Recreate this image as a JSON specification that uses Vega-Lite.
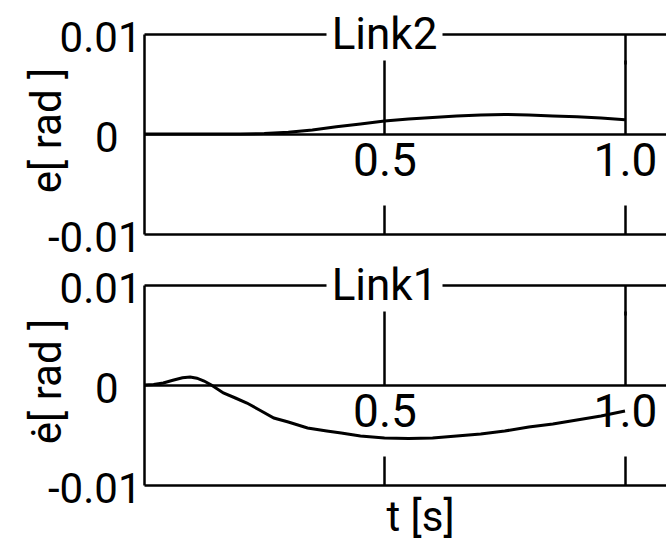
{
  "$schema": "https://vega.github.io/schema/vega-lite/v6.json",
  "padding": {"left": 26, "top": 13, "right": 0, "bottom": 10},
  "background": "white",
  "config": {
    "font": "Roboto",
    "view": {"stroke": null},
    "axis": {
      "domainColor": "black", "tickColor": "black", "labelColor": "black", "titleColor": "black",
      "domainWidth": 2.5, "tickWidth": 2.5, "grid": false,
      "labelFont": "Roboto", "titleFont": "Roboto",
      "titleFontWeight": "normal"
    },
    "line": {"color": "black", "strokeWidth": 3}
  },
  "datasets": {
    "link2": [
      {"t": 0, "e": 0}, {"t": 0.1, "e": 0}, {"t": 0.2, "e": 0}, {"t": 0.25, "e": 0.00005},
      {"t": 0.3, "e": 0.00018}, {"t": 0.35, "e": 0.0004}, {"t": 0.4, "e": 0.00072},
      {"t": 0.45, "e": 0.001}, {"t": 0.5, "e": 0.0013}, {"t": 0.55, "e": 0.0015},
      {"t": 0.6, "e": 0.00166}, {"t": 0.65, "e": 0.0018}, {"t": 0.7, "e": 0.0019},
      {"t": 0.75, "e": 0.00195}, {"t": 0.8, "e": 0.0019}, {"t": 0.85, "e": 0.0018},
      {"t": 0.9, "e": 0.00172}, {"t": 0.95, "e": 0.0016}, {"t": 1.0, "e": 0.00143}
    ],
    "link1": [
      {"t": 0, "e": 0}, {"t": 0.02, "e": 0.00005}, {"t": 0.04, "e": 0.0002}, {"t": 0.06, "e": 0.00047},
      {"t": 0.08, "e": 0.00072}, {"t": 0.096, "e": 0.0008}, {"t": 0.11, "e": 0.00068},
      {"t": 0.125, "e": 0.0004}, {"t": 0.14, "e": 0}, {"t": 0.165, "e": -0.0008},
      {"t": 0.19, "e": -0.0013}, {"t": 0.214, "e": -0.0018}, {"t": 0.24, "e": -0.0025},
      {"t": 0.27, "e": -0.0033}, {"t": 0.3, "e": -0.0037}, {"t": 0.34, "e": -0.0043},
      {"t": 0.38, "e": -0.0046}, {"t": 0.41, "e": -0.0048}, {"t": 0.45, "e": -0.0051},
      {"t": 0.5, "e": -0.0053}, {"t": 0.55, "e": -0.00535}, {"t": 0.6, "e": -0.0053},
      {"t": 0.65, "e": -0.0051}, {"t": 0.7, "e": -0.0049}, {"t": 0.75, "e": -0.0046},
      {"t": 0.8, "e": -0.0042}, {"t": 0.85, "e": -0.0039}, {"t": 0.9, "e": -0.0035},
      {"t": 0.95, "e": -0.0031}, {"t": 1.0, "e": -0.0026}
    ]
  },
  "spacing": 51,
  "bounds": "flush",
  "vconcat": [
    {
      "width": 524, "height": 200,
      "data": {"name": "link2"},
      "layer": [
        {
          "mark": {"type": "line"},
          "encoding": {
            "x": {"field": "t", "type": "quantitative", "scale": {"domain": [0, 1.0894], "nice": false, "zero": false},
              "axis": {"orient": "bottom", "offset": -100, "values": [0.5, 1.0], "format": ".1f", "ticks": false, "domain": true, "labelFontSize": 46, "labelPadding": 5, "labelFlush": false, "title": null}},
            "y": {"field": "e", "type": "quantitative", "scale": {"domain": [-0.01, 0.01], "nice": false, "zero": false},
              "axis": {"orient": "left", "values": [-0.01, 0.01], "ticks": false, "domain": true, "labelPadding": 3, "labelFontSize": 42, "labelOffset": 4, "labelExpr": "replace(format(datum.value, '.2~f'), '\u2212', '-')", "title": "e[ rad ]", "titleX": -84, "titleY": 96, "titleAngle": 270, "titleAlign": "center", "titleBaseline": "alphabetic", "titleFontSize": 42}}
          }
        },
        {
          "mark": {"type": "line", "opacity": 0},
          "encoding": {
            "x": {"field": "t", "type": "quantitative", "scale": {"domain": [0, 1.0894], "nice": false, "zero": false},
              "axis": {"orient": "bottom", "offset": -100, "values": [0.5, 1.0], "ticks": true, "tickSize": -74, "domain": false, "labels": false, "title": null}},
            "y": {"field": "e", "type": "quantitative", "scale": {"domain": [-0.01, 0.01], "nice": false, "zero": false},
              "axis": {"orient": "left", "values": [0], "ticks": false, "domain": false, "labelPadding": 26, "labelFontSize": 42, "labelOffset": 4, "format": ".0f", "title": null}}
          }
        },
        {
          "mark": {"type": "line", "opacity": 0},
          "encoding": {
            "x": {"field": "t", "type": "quantitative", "scale": {"domain": [0, 1.0894], "nice": false, "zero": false},
              "axis": {"orient": "top", "values": [1.0], "ticks": true, "tickSize": -30, "domain": true, "domainDash": [182, 116, 1000], "labels": false, "title": "Link2", "titleX": 240, "titleY": 14, "titleAlign": "center", "titleBaseline": "alphabetic", "titleFontSize": 44, "titleAngle": 0}},
            "y": {"field": "e", "type": "quantitative", "scale": {"domain": [-0.01, 0.01], "nice": false, "zero": false}, "axis": null}
          }
        },
        {
          "mark": {"type": "line", "opacity": 0},
          "encoding": {
            "x": {"field": "t", "type": "quantitative", "scale": {"domain": [0, 1.0894], "nice": false, "zero": false},
              "axis": {"orient": "bottom", "values": [0.5, 1.0], "ticks": true, "tickSize": -29, "domain": true, "labels": false, "title": null}},
            "y": {"field": "e", "type": "quantitative", "scale": {"domain": [-0.01, 0.01], "nice": false, "zero": false}, "axis": null}
          }
        }
      ],
      "resolve": {"axis": {"x": "independent", "y": "independent"}}
    },
    {
      "width": 524, "height": 200,
      "data": {"name": "link1"},
      "layer": [
        {
          "mark": {"type": "line"},
          "encoding": {
            "x": {"field": "t", "type": "quantitative", "scale": {"domain": [0, 1.0894], "nice": false, "zero": false},
              "axis": {"orient": "bottom", "offset": -100, "values": [0.5, 1.0], "format": ".1f", "ticks": false, "domain": true, "labelFontSize": 46, "labelPadding": 5, "labelFlush": false, "title": null}},
            "y": {"field": "e", "type": "quantitative", "scale": {"domain": [-0.01, 0.01], "nice": false, "zero": false},
              "axis": {"orient": "left", "values": [-0.01, 0.01], "ticks": false, "domain": true, "labelPadding": 3, "labelFontSize": 42, "labelOffset": 4, "labelExpr": "replace(format(datum.value, '.2~f'), '\u2212', '-')", "title": "ė[ rad ]", "titleX": -84, "titleY": 96, "titleAngle": 270, "titleAlign": "center", "titleBaseline": "alphabetic", "titleFontSize": 42}}
          }
        },
        {
          "mark": {"type": "line", "opacity": 0},
          "encoding": {
            "x": {"field": "t", "type": "quantitative", "scale": {"domain": [0, 1.0894], "nice": false, "zero": false},
              "axis": {"orient": "bottom", "offset": -100, "values": [0.5, 1.0], "ticks": true, "tickSize": -74, "domain": false, "labels": false, "title": null}},
            "y": {"field": "e", "type": "quantitative", "scale": {"domain": [-0.01, 0.01], "nice": false, "zero": false},
              "axis": {"orient": "left", "values": [0], "ticks": false, "domain": false, "labelPadding": 26, "labelFontSize": 42, "labelOffset": 4, "format": ".0f", "title": null}}
          }
        },
        {
          "mark": {"type": "line", "opacity": 0},
          "encoding": {
            "x": {"field": "t", "type": "quantitative", "scale": {"domain": [0, 1.0894], "nice": false, "zero": false},
              "axis": {"orient": "top", "values": [1.0], "ticks": true, "tickSize": -30, "domain": true, "domainDash": [182, 116, 1000], "labels": false, "title": "Link1", "titleX": 240, "titleY": 14, "titleAlign": "center", "titleBaseline": "alphabetic", "titleFontSize": 44, "titleAngle": 0}},
            "y": {"field": "e", "type": "quantitative", "scale": {"domain": [-0.01, 0.01], "nice": false, "zero": false}, "axis": null}
          }
        },
        {
          "mark": {"type": "line", "opacity": 0},
          "encoding": {
            "x": {"field": "t", "type": "quantitative", "scale": {"domain": [0, 1.0894], "nice": false, "zero": false},
              "axis": {"orient": "bottom", "values": [0.5, 1.0], "ticks": true, "tickSize": -29, "domain": true, "labels": false, "title": "t [s]", "titleX": 276, "titleY": 45, "titleAlign": "center", "titleBaseline": "alphabetic", "titleFontSize": 42}},
            "y": {"field": "e", "type": "quantitative", "scale": {"domain": [-0.01, 0.01], "nice": false, "zero": false}, "axis": null}
          }
        }
      ],
      "resolve": {"axis": {"x": "independent", "y": "independent"}}
    }
  ]
}
